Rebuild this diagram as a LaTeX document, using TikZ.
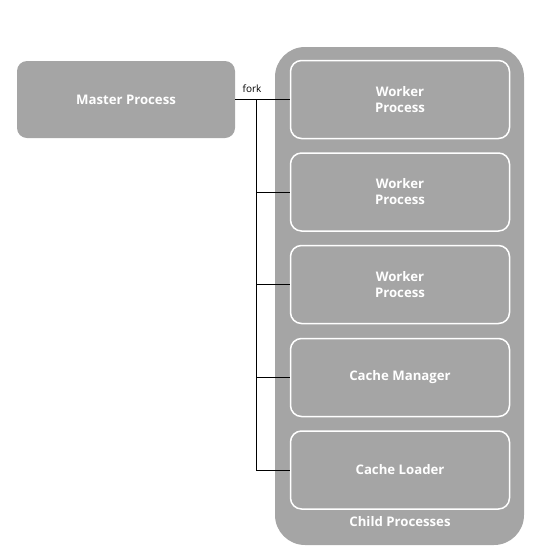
\documentclass[tikz,border=0pt]{standalone}
\usepackage{fontspec}
\setmainfont{Open Sans}
\definecolor{boxgray}{RGB}{165,165,165}
\begin{document}
\begin{tikzpicture}[x=1pt,y=-1pt,
  gbox/.style={fill=boxgray, draw=none, rounded corners=10pt, text=white, font=\bfseries\fontsize{13.2}{16}\selectfont, align=center},
  child/.style={draw=white, line width=1.5pt, fill=boxgray, rounded corners=11pt, minimum width=219pt, minimum height=78pt, text=white, font=\bfseries\fontsize{13.2}{16}\selectfont, align=center, inner sep=0pt},
  conn/.style={draw=black, line width=1pt}]
\useasboundingbox (0,0) rectangle (552,547);
\fill[boxgray, rounded corners=30pt] (275,47) rectangle (524,545);
\node[gbox, minimum width=218pt, minimum height=77pt, inner sep=0pt] (master) at (126,99.5) {Master Process};
\node[child] (w1) at (400,99.5) {Worker\\Process};
\node[child] (w2) at (400,192) {Worker\\Process};
\node[child] (w3) at (400,284.5) {Worker\\Process};
\node[child] (cm) at (400,377.5) {Cache Manager};
\node[child] (cl) at (400,470) {Cache Loader};
\node[text=white, font=\bfseries\fontsize{13.2}{16}\selectfont] (cp) at (400,522) {Child Processes};
\node[font=\fontsize{10}{12}\selectfont, text=black, inner sep=0pt] (fork) at (252,89) {fork};
\coordinate (j) at (256,99.5);
\draw[conn] (master.east) -- (w1.west);
\draw[conn] (j) |- (w2.west);
\draw[conn] (j) |- (w3.west);
\draw[conn] (j) |- (cm.west);
\draw[conn] (j) |- (cl.west);
\end{tikzpicture}
\end{document}
